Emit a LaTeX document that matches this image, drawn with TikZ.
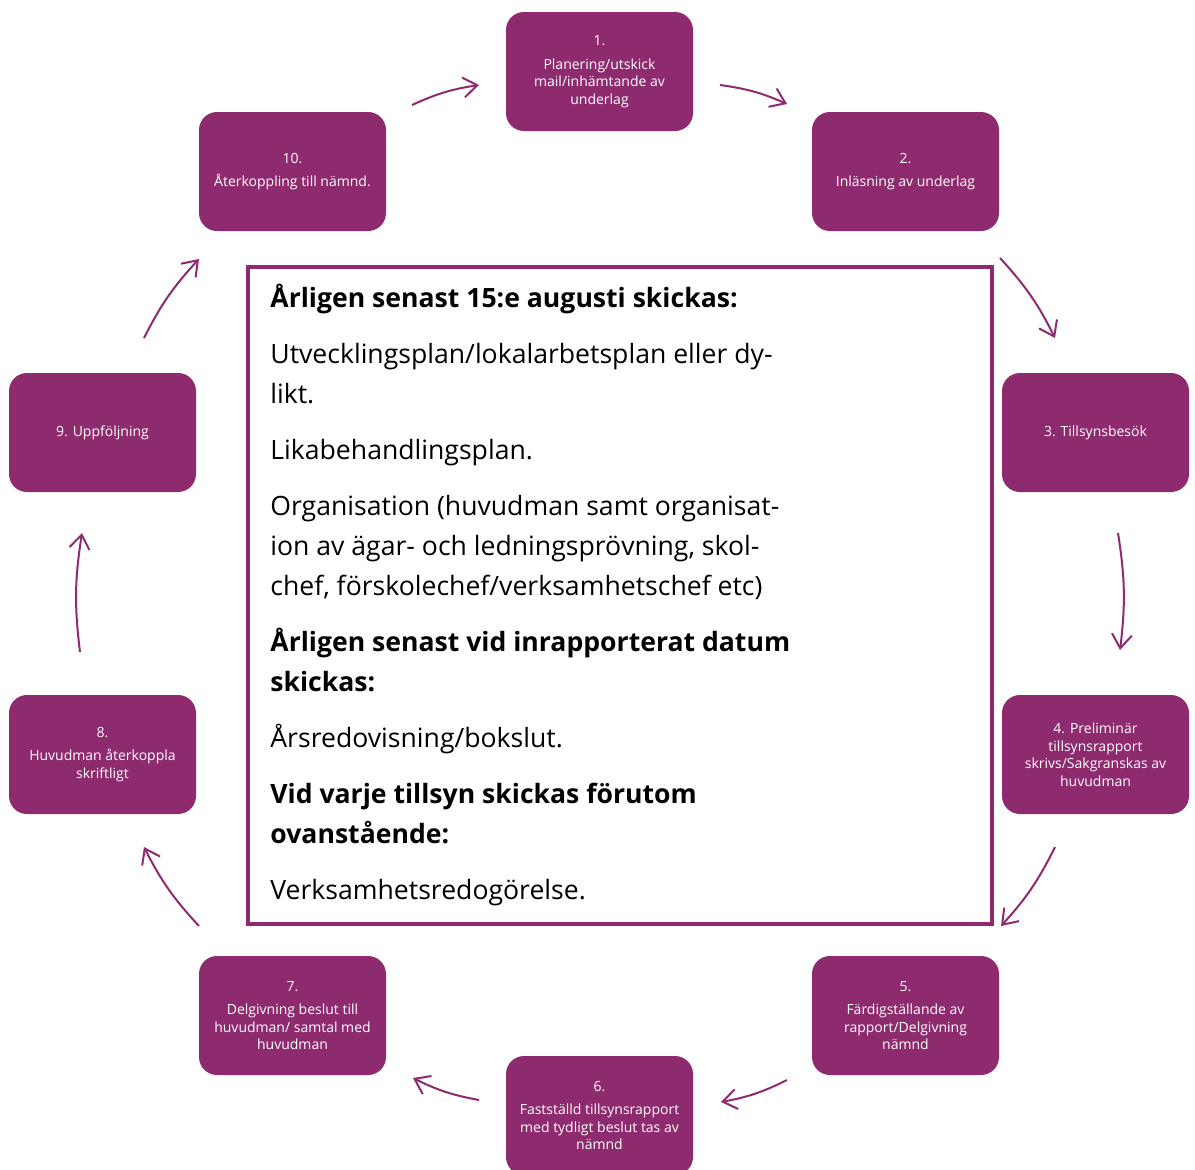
\documentclass[tikz,border=0pt]{standalone}
\usepackage{fontspec}
\setmainfont{Open Sans}
\usetikzlibrary{arrows.meta}
\definecolor{plum}{HTML}{8E2A6E}
\begin{document}
\begin{tikzpicture}[x=0.5pt,y=-0.5pt,
  stepbox/.style={fill=plum, draw=none, rounded corners=9pt, minimum width=93.5pt, minimum height=59.5pt, inner sep=0pt, text=white, align=center, font=\fontsize{7}{8.75}\selectfont},
  arr/.style={draw=plum, line width=1pt, -{Straight Barb[length=7pt,width=10pt,line width=1pt]}},
  infoline/.style={anchor=base west, inner sep=0pt, font=\fontsize{13.3}{20}\selectfont},
  infohead/.style={infoline, font=\fontsize{13.3}{20}\selectfont\bfseries}]
\useasboundingbox (0,0) rectangle (1195,1169);
\node[stepbox] (b1) at (599.5,71.5) {1.\\[3pt]Planering/utskick\\mail/inhämtande av\\underlag};
\node[stepbox] (b2) at (905.5,171.5) {2.\\[3pt]Inläsning av underlag};
\node[stepbox] (b3) at (1095.5,432.5) {3. Tillsynsbesök};
\node[stepbox] (b4) at (1095.5,754.5) {4. Preliminär\\tillsynsrapport\\skrivs/Sakgranskas av\\huvudman};
\node[stepbox] (b5) at (905.5,1015.5) {5.\\[3pt]Färdigställande av\\rapport/Delgivning\\nämnd};
\node[stepbox] (b6) at (599.5,1115.5) {6.\\[3pt]Fastställd tillsynsrapport\\med tydligt beslut tas av\\nämnd};
\node[stepbox] (b7) at (292.5,1015.5) {7.\\[3pt]Delgivning beslut till\\huvudman/ samtal med\\huvudman};
\node[stepbox] (b8) at (102.5,754.5) {8.\\[3pt]Huvudman återkoppla\\skriftligt};
\node[stepbox] (b9) at (102.5,432.5) {9. Uppföljning};
\node[stepbox] (b10) at (292.5,171.5) {10.\\[3pt]Återkoppling till nämnd.};

\node[draw=plum, line width=2pt, minimum width=372pt, minimum height=328.5pt, inner sep=0pt] (info) at (620,595.5) {};
\node[infohead] (t1) at (270,307) {Årligen senast 15:e augusti skickas:};
\node[infoline] (t2) at (270,363) {Utvecklingsplan/lokalarbetsplan eller dy-};
\node[infoline] (t3) at (270,403) {likt.};
\node[infoline] (t4) at (270,459) {Likabehandlingsplan.};
\node[infoline] (t5) at (270,515) {Organisation (huvudman samt organisat-};
\node[infoline] (t6) at (270,555) {ion av ägar- och ledningsprövning, skol-};
\node[infoline] (t7) at (270,595) {chef, förskolechef/verksamhetschef etc)};
\node[infohead] (t8) at (270,651) {Årligen senast vid inrapporterat datum};
\node[infohead] (t9) at (270,691) {skickas:};
\node[infoline] (t10) at (270,747) {Årsredovisning/bokslut.};
\node[infohead] (t11) at (270,803) {Vid varje tillsyn skickas förutom};
\node[infohead] (t12) at (270,843) {ovanstående:};
\node[infoline] (t13) at (270,899) {Verksamhetsredogörelse.};

\coordinate (a1s) at (720,85);   \coordinate (a1e) at (787,104);
\coordinate (a2s) at (1000,258); \coordinate (a2e) at (1055,338);
\coordinate (a3s) at (1118,533); \coordinate (a3e) at (1120,650);
\coordinate (a4s) at (1055,847); \coordinate (a4e) at (1001,926);
\coordinate (a5s) at (787,1080); \coordinate (a5e) at (721,1102);
\coordinate (a6s) at (479,1100); \coordinate (a6e) at (413,1078);
\coordinate (a7s) at (199,926);  \coordinate (a7e) at (144,847);
\coordinate (a8s) at (80,652);   \coordinate (a8e) at (82,533);
\coordinate (a9s) at (144,338);  \coordinate (a9e) at (199,259);
\coordinate (a10s) at (412,105); \coordinate (a10e) at (479,85);
\foreach \i in {1,...,10}{
  \draw[arr] (a\i s) to[bend left=8] (a\i e);
}
\end{tikzpicture}
\end{document}
